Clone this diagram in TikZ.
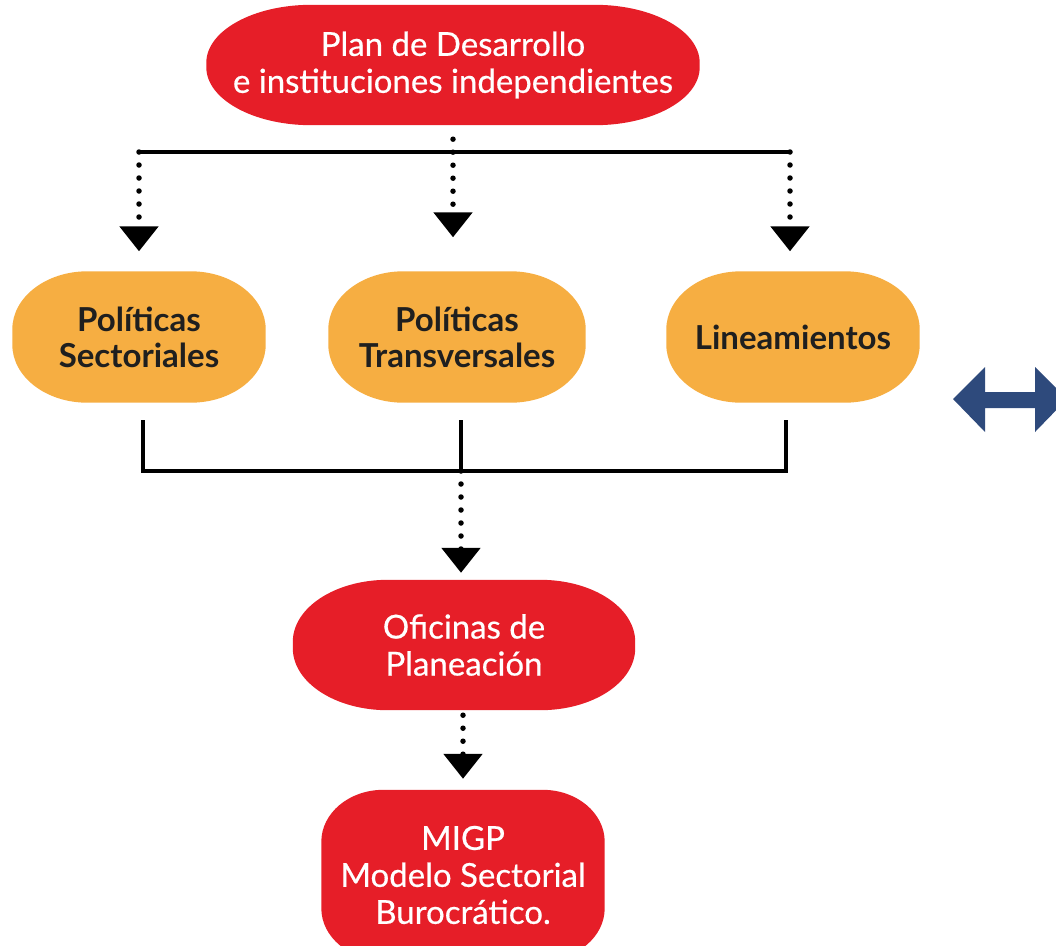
\documentclass[tikz,border=0pt]{standalone}
\usepackage{fontspec}
\setmainfont{Lato}
\newfontfamily\medfont[FakeBold=0.5]{Lato}
\usetikzlibrary{arrows.meta,calc,backgrounds}
\definecolor{myred}{HTML}{E61E28}
\definecolor{myorange}{HTML}{F6AE42}
\definecolor{mynavy}{HTML}{2E4A7C}
\tikzset{
  redbox/.style={text=white, align=center,
    font=\medfont\fontsize{33}{37}\selectfont, inner sep=0pt},
  orangebox/.style={text=black!88, align=center,
    font=\fontsize{33}{36}\selectfont\bfseries, inner sep=0pt,
    minimum width=253pt, minimum height=131pt},
  dotline/.style={line width=5.5pt, line cap=round, dash pattern=on 0pt off 13pt,
    -{Triangle[width=38pt,length=25pt]}},
  solidline/.style={line width=4pt},
}
% #1 node name, #2 x radius, #3 y radius, #4 colour
\newcommand{\pillbg}[4]{%
  \fill[#4] ($(#1.north west)+(#2,0)$) -- ($(#1.north east)+(-#2,0)$)
    arc[start angle=-90, end angle=0, x radius=#2, y radius=#3]
    -- ($(#1.south east)+(0,-#3)$)
    arc[start angle=0, end angle=90, x radius=#2, y radius=#3]
    -- ($(#1.south west)+(#2,0)$)
    arc[start angle=90, end angle=180, x radius=#2, y radius=#3]
    -- ($(#1.north west)+(0,#3)$)
    arc[start angle=180, end angle=270, x radius=#2, y radius=#3]
    -- cycle;}
\begin{document}
\begin{tikzpicture}[x=1pt,y=-1pt]
\useasboundingbox (0,0) rectangle (1056,945);
\clip (0,0) rectangle (1056,945);
% nodes
\node[redbox, minimum width=493pt, minimum height=120pt] (top) at (453,65)
  {Plan de Desarrollo\\e instituciones independientes};
\node[orangebox] (ps) at (139,337) {Políticas\\Sectoriales};
\node[orangebox, minimum width=257pt] (pt) at (457,337) {Políticas\\Transversales};
\node[orangebox] (li) at (793,337) {Lineamientos};
\node[redbox, minimum width=342pt, minimum height=130pt] (of) at (464,645)
  {Oficinas de\\Planeación};
\node[redbox, minimum width=283pt, minimum height=170pt] (mi) at (463,875)
  {MIGP\\Modelo Sectorial\\Burocrático.};
\begin{scope}[on background layer]
  \pillbg{top}{105}{58}{myred}
  \pillbg{ps}{75}{58}{myorange}
  \pillbg{pt}{75}{58}{myorange}
  \pillbg{li}{75}{58}{myorange}
  \pillbg{of}{95}{62}{myred}
  \pillbg{mi}{62}{52}{myred}
\end{scope}
% top bracket
\coordinate (tl) at (139,152);
\coordinate (tr) at (790,152);
\draw[solidline] (tl) -- (tr);
\draw[dotline, shorten >=20pt] (tl) -- (ps.north);
\draw[dotline, shorten >=20pt] (tr) -- (li.north -| tr);
\draw[dotline, shorten <=14pt, shorten >=34pt] (top.south) -- (pt.north -| top.south);
% bottom bracket
\coordinate (bl) at (143,420);
\coordinate (bm) at (461,420);
\coordinate (br) at (786,420);
\coordinate (blb) at (143,471);
\coordinate (bmb) at (461,471);
\coordinate (brb) at (786,471);
\draw[solidline] (bl) -- (blb) -- (brb) -- (br);
\draw[solidline] (bm) -- (bmb);
\draw[dotline, shorten >=7pt] (bmb) -- (of.north -| bmb);
\draw[dotline, shorten <=5pt, shorten >=11pt] (of.south -| mi.north) -- (mi.north);
% double arrow
\fill[mynavy] (953,399) -- (985,367) -- (985,392) -- (1035,392) -- (1035,367)
  -- (1067,399) -- (1035,432) -- (1035,408) -- (985,408) -- (985,432) -- cycle;
\end{tikzpicture}
\end{document}
